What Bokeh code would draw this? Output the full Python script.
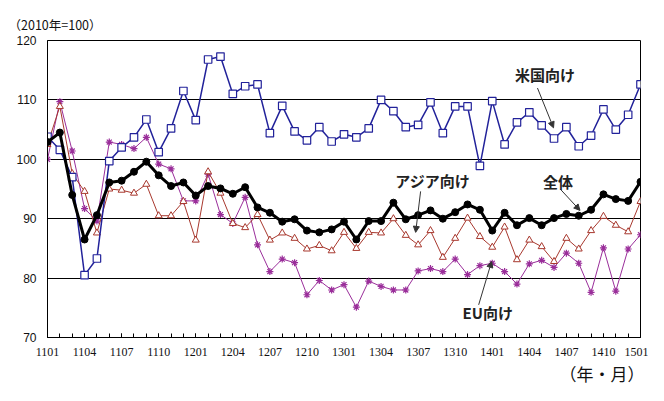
from bokeh.plotting import figure
from bokeh.models import Range1d, FixedTicker, Label, Arrow, NormalHead, Title
from bokeh.embed import file_html
from bokeh.resources import INLINE

# x positions are month indices: 0 = 1101 (Jan 2011) ... 48 = 1501 (Jan 2015)
tick_labels = ["1101", "1104", "1107", "1110", "1201", "1204", "1207", "1210", "1301",
               "1304", "1307", "1310", "1401", "1404", "1407", "1410", "1501"]

usa = [103.8, 101.6, 97.0, 80.5, 83.3, 99.7, 102.0, 103.7, 106.7, 101.2, 105.2, 111.5,
       106.6, 116.8, 117.3, 111.0, 112.3, 112.6, 104.4, 109.0, 104.7, 103.2, 105.4, 103.0,
       104.2, 103.7, 105.2, 110.0, 108.1, 105.4, 105.8, 109.6, 104.4, 108.9, 108.9, 98.9,
       109.8, 102.5, 106.2, 107.9, 105.7, 103.5, 105.4, 102.2, 104.0, 108.4, 105.0, 107.5,
       112.6]
total = [102.9, 104.5, 94.0, 86.5, 90.6, 96.1, 96.4, 97.9, 99.6, 97.3, 95.5, 96.1,
         93.9, 95.5, 95.1, 94.2, 95.3, 91.9, 91.0, 89.5, 89.9, 88.0, 87.7, 88.2,
         89.5, 86.5, 89.6, 89.6, 92.7, 89.9, 90.6, 91.4, 90.0, 91.1, 92.4, 91.5,
         88.0, 91.0, 88.9, 90.1, 88.9, 90.1, 90.8, 90.5, 91.5, 94.1, 93.3, 93.0,
         96.2]
asia = [102.5, 108.9, 97.6, 94.6, 87.6, 95.0, 94.8, 94.3, 95.8, 90.5, 90.5, 92.9,
        86.4, 97.9, 94.3, 89.2, 88.5, 90.7, 86.4, 87.6, 86.7, 84.9, 85.5, 84.6,
        87.7, 85.0, 87.7, 87.6, 90.0, 87.2, 85.6, 88.0, 83.5, 86.7, 90.1, 87.0,
        85.2, 88.6, 83.1, 86.4, 85.3, 82.8, 86.7, 84.9, 88.0, 90.4, 88.9, 87.8,
        92.9]
eu = [100.0, 109.7, 101.4, 91.7, 89.6, 102.9, 102.5, 101.8, 103.7, 99.2, 98.4, 93.0,
      93.0, 97.5, 90.7, 89.2, 93.6, 85.6, 81.1, 83.2, 82.6, 77.2, 79.6, 78.0,
      78.9, 75.1, 79.5, 78.6, 78.0, 78.0, 81.2, 81.6, 81.1, 83.2, 80.6, 82.1,
      82.5, 81.1, 79.0, 82.4, 83.0, 81.8, 84.2, 82.5, 77.6, 85.1, 77.8, 84.9,
      87.3]

x = list(range(len(total)))
jp = "Noto Sans CJK JP"

p = figure(width=648, height=385, output_backend="svg", toolbar_location=None,
           x_range=Range1d(0, 48), y_range=Range1d(70, 120),
           min_border_left=47, min_border_right=8, min_border_top=40, min_border_bottom=45)
p.background_fill_color = "white"
p.border_fill_color = "white"
p.outline_line_color = "black"
p.outline_line_width = 1

# unit note (top-left) as title
p.title.text = "（2010年=100）"
p.title.align = "left"
p.title.offset = -39
p.title.standoff = 14
p.title.text_font = jp
p.title.text_font_size = "12.5px"
p.title.text_font_style = "normal"
p.title.text_color = "#111111"

# axes
p.xaxis.ticker = FixedTicker(ticks=list(range(0, 49, 3)), minor_ticks=list(range(0, 49)))
p.xaxis.major_label_overrides = {i * 3: lab for i, lab in enumerate(tick_labels)}
p.xaxis.major_tick_in = 4
p.xaxis.major_tick_out = 0
p.xaxis.minor_tick_in = 4
p.xaxis.minor_tick_out = 0
p.xaxis.major_tick_line_color = "black"
p.xaxis.minor_tick_line_color = "black"
p.xaxis.axis_line_color = "black"
p.xaxis.major_label_standoff = 10
p.xaxis.major_label_text_font = "Liberation Sans Narrow"
p.xaxis.major_label_text_font_size = "12px"
p.xaxis.major_label_text_color = "#111111"

p.yaxis.ticker = FixedTicker(ticks=[70, 80, 90, 100, 110, 120])
p.yaxis.major_tick_in = 0
p.yaxis.major_tick_out = 0
p.yaxis.minor_tick_line_color = None
p.yaxis.axis_line_color = "black"
p.yaxis.major_label_standoff = 11
p.yaxis.major_label_text_font = "Liberation Sans"
p.yaxis.major_label_text_font_size = "12px"
p.yaxis.major_label_text_color = "#111111"

p.xgrid.grid_line_color = None
p.ygrid.grid_line_color = "black"
p.ygrid.grid_line_width = 1

# bottom-right unit note
p.add_layout(Title(text="（年・月）", align="right", offset=-4, standoff=0, text_font=jp,
                   text_font_size="17px", text_font_style="normal", text_color="#111111"), "below")

# series
eu_c = "#9A2E9A"
asia_c = "#A8382E"
usa_c = "#22229A"

p.line(x, eu, line_color=eu_c, line_width=1)
p.scatter(x, eu, marker="asterisk", size=7, line_color=eu_c, line_width=1.2)

p.line(x, asia, line_color=asia_c, line_width=1)
p.scatter(x, asia, marker="triangle", size=7, line_color=asia_c, fill_color="white", line_width=1)

p.line(x, usa, line_color=usa_c, line_width=1.5)
p.scatter(x, usa, marker="square", size=7.5, line_color=usa_c, fill_color="white", line_width=1.2)

p.line(x, total, line_color="black", line_width=3)
p.scatter(x, total, marker="circle", size=7, line_color="black", fill_color="black")

# annotations
ann = [("米国向け", 37.85, 114.2), ("アジア向け", 28.15, 96.5), ("全体", 40.1, 96.3), ("EU向け", 33.6, 74.2)]
for t, ax, ay in ann:
    p.add_layout(Label(x=ax, y=ay, text=t, text_font=jp, text_font_size="15px",
                       text_font_style="bold", text_baseline="middle", text_color="#222222"))

arrows = [(39.66, 112.0, 40.96, 105.3), (30.2, 94.6, 29.8, 87.7),
          (41.5, 95.0, 43.1, 91.4), (34.9, 75.5, 35.95, 82.8)]
for x0, y0, x1, y1 in arrows:
    p.add_layout(Arrow(x_start=x0, y_start=y0, x_end=x1, y_end=y1, line_color="#333333", line_width=1,
                       end=NormalHead(size=6, fill_color="#333333", line_color="#333333")))

open("out.html", "w").write(file_html(p, INLINE))
